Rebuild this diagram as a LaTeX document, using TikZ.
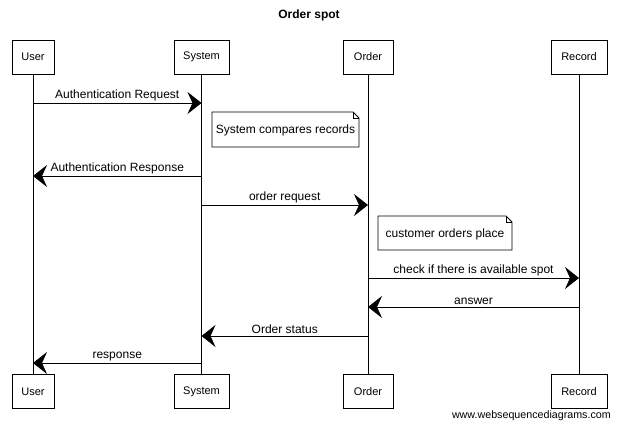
\documentclass[tikz,border=0pt]{standalone}
\usepackage{fontspec}
\setmainfont{Liberation Sans}
\usetikzlibrary{arrows.meta}
\begin{document}
\begin{tikzpicture}[x=1pt,y=-1pt,
  part/.style={draw,line width=0.75pt,minimum height=34pt,inner sep=0pt,font=\fontsize{11}{13}\selectfont},
  life/.style={line width=0.7pt},
  msg/.style={line width=0.8pt,-{Stealth[length=14pt,width=22pt,inset=5pt]}},
  lbl/.style={font=\fontsize{12}{14}\selectfont,above=1pt,inner sep=1pt},
  notetext/.style={font=\fontsize{12}{14}\selectfont,inner sep=0pt},
  notebox/.style={draw,line width=0.75pt,fill=white}]
\useasboundingbox (0,0) rectangle (618,427);
\node[font=\bfseries\fontsize{12}{14}\selectfont] (title) at (309,15) {Order spot};
% participants
\node[part,minimum width=42pt] (uT) at (33,57) {User};
\node[part,minimum width=55pt] (sT) at (201.5,57) {System};
\node[part,minimum width=50pt] (oT) at (368,57) {Order};
\node[part,minimum width=56pt] (rT) at (579,57) {Record};
\node[part,minimum width=42pt] (uB) at (33,391.5) {User};
\node[part,minimum width=55pt] (sB) at (201.5,391.5) {System};
\node[part,minimum width=50pt] (oB) at (368,391.5) {Order};
\node[part,minimum width=56pt] (rB) at (579,391.5) {Record};
\foreach \p in {u,s,o,r}{\draw[life] (\p T.south) -- (\p B.north);}
% message end points
\foreach \n/\a/\b/\y in {1/u/s/103, 2/s/u/176, 3/s/o/205, 4/o/r/278, 5/r/o/307, 6/o/s/336, 7/s/u/363}{
  \coordinate (m\n a) at (\a T.south |- 0,\y);
  \coordinate (m\n b) at (\b T.south |- 0,\y);
}
\draw[msg] (m1a) -- node[lbl] {Authentication Request} (m1b);
\draw[msg] (m2a) -- node[lbl] {Authentication Response} (m2b);
\draw[msg] (m3a) -- node[lbl] {order request} (m3b);
\draw[msg] (m4a) -- node[lbl] {check if there is available spot} (m4b);
\draw[msg] (m5a) -- node[lbl] {answer} (m5b);
\draw[msg] (m6a) -- node[lbl] {Order status} (m6b);
\draw[msg] (m7a) -- node[lbl] {response} (m7b);
% notes
\coordinate (n1a) at (212,112);
\coordinate (n1b) at (359,147);
\draw[notebox] (n1a) -- (353,112) -- (359,118) -- (n1b) -- (212,147) -- cycle;
\draw[line width=0.6pt] (353,112) -- (353,118) -- (359,118);
\node[notetext] (n1) at (285.5,130) {System compares records};
\coordinate (n2a) at (378,216);
\coordinate (n2b) at (512,250);
\draw[notebox] (n2a) -- (506,216) -- (512,222) -- (n2b) -- (378,250) -- cycle;
\draw[line width=0.6pt] (506,216) -- (506,222) -- (512,222);
\node[notetext] (n2) at (445,234) {customer orders place};
% watermark
\node[anchor=east,font=\fontsize{10.7}{13}\selectfont,inner sep=0pt] (wm) at (611,416) {www.websequencediagrams.com};
\end{tikzpicture}
\end{document}
